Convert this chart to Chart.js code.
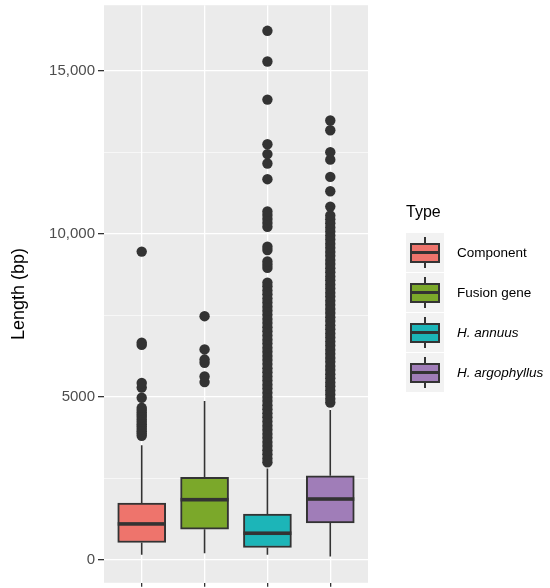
<!DOCTYPE html>
<html>
<head>
<meta charset="utf-8">
<script src="https://cdn.jsdelivr.net/npm/chart.js@4"></script>
<style>
  body { margin: 0; background: #fff; font-family: "Liberation Sans", Arial, sans-serif; }
  #wrap { position: relative; width: 550px; height: 588px; }
  #legend { position: absolute; left: 0; top: 0; }
  .key { position: absolute; width: 38px; height: 39px; background: #F2F2F2; }
  .whisk { position: absolute; left: 18px; width: 2px; top: 4px; bottom: 4px; background: #333; }
  .kbox { position: absolute; left: 4px; top: 10px; width: 30px; height: 20px; box-sizing: border-box; border: 2px solid #333; }
  .kmed { position: absolute; left: 4px; width: 30px; top: 18px; height: 3px; background: #333; }
  .lab { position: absolute; font-size: 13.5px; color: #000; line-height: 16px; white-space: nowrap; }
</style>
</head>
<body>
<div id="wrap">
  <canvas id="c" width="550" height="588"></canvas>
  <div id="legend"></div>
</div>
<script>
// box plot summary per type (bp)
const categories = ['Component', 'Fusion gene', 'H. annuus', 'H. argophyllus'];
const italicCats = [false, false, true, true];
const colors = ['#EE746C', '#7BA82A', '#1CB5B8', '#A07DB8'];
const whiskerLow = [153, 204, 153, 100];
const q1 = [530, 937, 377, 1130];
const median = [1100, 1843, 815, 1864];
const q3 = [1741, 2527, 1405, 2577];
const whiskerHigh = [3513, 4870, 2800, 4590];

// outliers
const outComponent = [3800, 3870, 3940, 4010, 4090, 4160, 4230, 4300, 4380, 4450, 4520, 4590, 4660,
  4970, 5280, 5420, 6590, 6660, 9450];
const outFusion = [5450, 5620, 6040, 6140, 6450, 7470];
const outAnnuus = [2990, 3110, 3240, 3360, 3490, 3610, 3740, 3860, 3990, 4110, 4240, 4370, 4490, 4620,
  4740, 4870, 4990, 5120, 5250, 5370, 5500, 5620, 5750, 5870, 6000, 6130, 6250, 6380, 6500, 6630,
  6750, 6880, 7010, 7130, 7260, 7380, 7510, 7640, 7760, 7890, 8010, 8140, 8260, 8390, 8500,
  8950, 9050, 9150, 9500, 9600, 10210, 10330, 10450, 10570, 10680,
  11670, 12150, 12440, 12740, 14110, 15280, 16220];
const outArgophyllus = [4820, 4940, 5070, 5190, 5320, 5440, 5570, 5690, 5820, 5940, 6070, 6190, 6320,
  6440, 6570, 6690, 6820, 6940, 7070, 7190, 7320, 7440, 7570, 7690, 7820, 7940, 8070, 8190, 8320,
  8440, 8570, 8690, 8820, 8940, 9070, 9190, 9320, 9440, 9570, 9690, 9820, 9940, 10070, 10190,
  10320, 10440, 10560, 10830, 11300, 11740, 12270, 12500, 13170, 13470];
const outliers = [outComponent, outFusion, outAnnuus, outArgophyllus];

const yTicks = [0, 2500, 5000, 7500, 10000, 12500, 15000];
const yMin = -705, yMax = 17005;

const isMajor = v => v % 5000 === 0;

const boxParts = {
  id: 'boxParts',
  beforeDraw(chart) {
    const {ctx, chartArea: a} = chart;
    ctx.save();
    ctx.fillStyle = '#EBEBEB';
    ctx.fillRect(a.left, a.top, a.right - a.left, a.bottom - a.top);
    ctx.restore();
  },
  beforeDatasetsDraw(chart) {
    const {ctx, scales: {x, y}} = chart;
    ctx.save();
    ctx.strokeStyle = '#333';
    ctx.lineWidth = 1.6;
    categories.forEach((c, i) => {
      const px = x.getPixelForValue(i + 1);
      ctx.beginPath();
      ctx.moveTo(px, y.getPixelForValue(whiskerLow[i]));
      ctx.lineTo(px, y.getPixelForValue(q1[i]));
      ctx.moveTo(px, y.getPixelForValue(q3[i]));
      ctx.lineTo(px, y.getPixelForValue(whiskerHigh[i]));
      ctx.stroke();
    });
    ctx.restore();
  },
  afterDatasetDraw(chart, args) {
    if (args.meta.type !== 'bar') return;
    const {ctx, scales: {y}} = chart;
    ctx.save();
    ctx.fillStyle = '#333';
    args.meta.data.forEach((bar, i) => {
      const {x, width} = bar.getProps(['x', 'width'], true);
      const py = y.getPixelForValue(median[i]);
      ctx.fillRect(x - width / 2, py - 1.8, width, 3.6);
    });
    ctx.restore();
  }
};

const pts = [];
outliers.forEach((arr, i) => arr.forEach(v => pts.push({x: i + 1, y: v})));

Chart.defaults.font.family = '"Liberation Sans", Arial, sans-serif';

new Chart(document.getElementById('c'), {
  type: 'bar',
  data: {
    datasets: [
      {
        type: 'scatter',
        data: pts,
        pointRadius: 5.2,
        pointBackgroundColor: '#333333',
        pointBorderWidth: 0,
        order: 0
      },
      {
        type: 'bar',
        data: categories.map((c, i) => ({x: i + 1, y: [q1[i], q3[i]]})),
        backgroundColor: colors,
        borderColor: '#333333',
        borderWidth: 2,
        borderSkipped: false,
        barThickness: 48,
        order: 1
      }
    ]
  },
  options: {
    responsive: false,
    animation: false,
    events: [],
    layout: { padding: { top: 4, right: 182, bottom: 0, left: 0 } },
    plugins: { legend: { display: false }, tooltip: { enabled: false } },
    scales: {
      x: {
        type: 'linear',
        offset: false,
        min: 0.4,
        max: 4.6,
        afterBuildTicks: s => { s.ticks = [1, 2, 3, 4].map(v => ({value: v})); },
        afterFit: s => { s.paddingLeft = 0; s.paddingRight = 0; },
        ticks: { display: false },
        grid: { offset: false, color: '#FFFFFF', lineWidth: 1.3, tickColor: '#333333', tickLength: 4, tickWidth: 1.3 },
        border: { display: false }
      },
      y: {
        type: 'linear',
        min: yMin,
        max: yMax,
        afterBuildTicks: s => { s.ticks = yTicks.map(v => ({value: v})); },
        afterFit: s => { s.width = 104; s.paddingTop = 0; s.paddingBottom = 0; },
        ticks: {
          color: '#4D4D4D',
          font: { size: 15 },
          padding: 3,
          callback: v => {
            if (!isMajor(v)) return '';
            if (v === 5000) return '5000';
            return v.toLocaleString('en-US');
          }
        },
        grid: {
          color: '#FFFFFF',
          lineWidth: ctx => (ctx.tick && isMajor(ctx.tick.value)) ? 1.3 : 0.6,
          tickColor: ctx => (ctx.tick && isMajor(ctx.tick.value)) ? '#333333' : 'rgba(0,0,0,0)',
          tickLength: 6,
          tickWidth: 1.3
        },
        border: { display: false },
        title: {
          display: true,
          text: 'Length (bp)',
          color: '#000',
          font: { size: 18 },
          padding: { top: 8, bottom: 0 }
        }
      }
    }
  },
  plugins: [boxParts]
});

// legend drawn as html so the species names can be italic
const leg = document.getElementById('legend');
const title = document.createElement('div');
title.className = 'lab';
title.style.cssText = 'left:406px;top:202px;font-size:16px;line-height:20px;';
title.textContent = 'Type';
leg.appendChild(title);
categories.forEach((c, i) => {
  const top = 233 + i * 40;
  const key = document.createElement('div');
  key.className = 'key';
  key.style.left = '406px';
  key.style.top = top + 'px';
  key.innerHTML = '<div class="whisk"></div><div class="kbox" style="background:' + colors[i] +
    '"></div><div class="kmed"></div>';
  leg.appendChild(key);
  const lab = document.createElement('div');
  lab.className = 'lab';
  lab.style.left = '457px';
  lab.style.top = (top + 20 - 8) + 'px';
  if (italicCats[i]) lab.style.fontStyle = 'italic';
  lab.textContent = c;
  leg.appendChild(lab);
});
</script>
</body>
</html>
